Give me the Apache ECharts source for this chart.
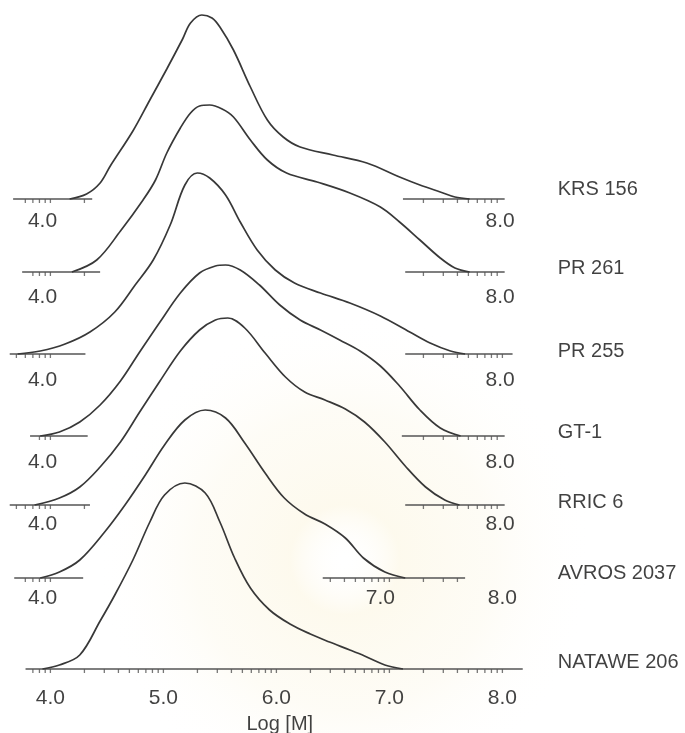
<!DOCTYPE html>
<html><head><meta charset="utf-8">
<script src="https://cdn.jsdelivr.net/npm/echarts@6/dist/echarts.min.js"></script>
<style>html,body{margin:0;padding:0;background:#fff}#c{width:685px;height:733px}</style>
</head><body><div id="c"></div>
<script>
// ---- data ----
const names = ['KRS 156','PR 261','PR 255','GT-1','RRIC 6','AVROS 2037','NATAWE 206'];
const baselines = [534, 461, 379, 297, 228, 155, 64];   // vertical stacking offsets
// [log M, relative intensity]
const krs156 = [[4.17,0],[4.32,5],[4.44,16],[4.53,33],[4.73,68],[4.88,99],[5.03,130],[5.17,160],[5.24,176],[5.34,184],[5.43,181],[5.50,172],[5.62,149],[5.77,112],[5.92,79],[6.06,62],[6.21,52],[6.50,44],[6.80,36],[7.09,22],[7.27,14],[7.45,7],[7.58,2],[7.71,0]];
const pr261 = [[4.19,0],[4.41,12],[4.62,41],[4.82,72],[4.93,92],[5.03,119],[5.15,144],[5.24,159],[5.32,166],[5.41,167],[5.52,163],[5.62,155],[5.77,132],[5.92,112],[6.09,99],[6.36,90],[6.65,79],[6.92,65],[7.09,50],[7.27,32],[7.45,14],[7.58,4],[7.71,0]];
const pr255 = [[3.71,0],[3.91,3],[4.13,10],[4.35,22],[4.57,42],[4.75,69],[4.91,94],[5.06,129],[5.19,169],[5.30,181],[5.41,176],[5.55,159],[5.68,132],[5.83,104],[5.99,84],[6.16,71],[6.39,61],[6.65,51],[6.92,38],[7.18,22],[7.36,11],[7.54,3],[7.67,0]];
const gt1 = [[3.91,0],[4.08,4],[4.26,14],[4.44,31],[4.62,55],[4.79,84],[4.97,114],[5.15,143],[5.32,163],[5.46,170],[5.55,171],[5.68,166],[5.85,151],[6.03,131],[6.21,116],[6.39,106],[6.56,96],[6.74,85],[6.92,70],[7.09,50],[7.27,26],[7.45,8],[7.63,0]];
const rric6 = [[3.86,0],[4.08,7],[4.26,18],[4.44,38],[4.62,63],[4.79,93],[4.97,124],[5.15,154],[5.32,175],[5.46,185],[5.57,187],[5.72,177],[5.90,152],[6.08,128],[6.25,113],[6.43,105],[6.61,96],[6.78,83],[6.96,63],[7.14,39],[7.32,18],[7.49,5],[7.62,0]];
const avros2037 = [[3.91,0],[4.08,6],[4.26,18],[4.48,46],[4.66,73],[4.84,103],[5.01,133],[5.19,158],[5.37,168],[5.55,160],[5.72,135],[5.90,105],[6.07,80],[6.25,64],[6.43,54],[6.61,40],[6.77,20],[6.96,6],[7.14,0]];
const natawe206 = [[3.93,0],[4.08,4],[4.26,14],[4.44,48],[4.57,74],[4.73,109],[4.88,147],[5.01,174],[5.19,186],[5.37,176],[5.50,147],[5.63,111],[5.77,81],[5.94,59],[6.12,45],[6.30,35],[6.47,27],[6.65,19],[6.78,13],[6.96,4],[7.12,0]];
const curves = [krs156, pr261, pr255, gt1, rric6, avros2037, natawe206];
// axis line pieces (log M extent) under each curve
const leftSegments  = [[3.67,4.37],[3.75,4.44],[3.64,4.31],[3.82,4.33],[3.64,4.35],[3.68,4.29],[3.78,8.18]];
const rightSegments = [[7.12,8.02],[7.14,8.02],[7.14,8.09],[7.11,8.02],[7.14,8.02],[6.41,7.67],null];
// tick label texts and their log M positions
const tickText = [['4.0','8.0'],['4.0','8.0'],['4.0','8.0'],['4.0','8.0'],['4.0','8.0'],['4.0','7.0','8.0'],['4.0','5.0','6.0','7.0','8.0']];
const tickPos  = [[3.93,7.98],[3.93,7.98],[3.93,7.98],[3.93,7.98],[3.93,7.98],[3.93,6.92,8.0],[4.0,5.0,6.0,7.0,8.0]];
const minorTicks = [0,0.301,0.477,0.602,0.699,0.778,0.845,0.903,0.954];
const axisName = 'Log [M]';

// ---- layout (pixels) ----
const tickLabelDrop = [22, 25, 26, 26, 19, 20, 29];
const nameRise = [10, 4, 3, 4, 3, 5, 7];
const nameX = 8.49;
const axisNamePos = [6.03, 9];

const chart = echarts.init(document.getElementById('c'));
const FONT = 'Liberation Sans, Arial, sans-serif';
const FS = 21;
const series = [];
curves.forEach((c, i) => {
  series.push({type:'line', smooth:0.35, symbol:'none', silent:true, z:3,
    lineStyle:{color:'#383838', width:1.7},
    data:c.map(p => [p[0], baselines[i] + p[1]])});
  [leftSegments[i], rightSegments[i]].forEach(seg => {
    if (!seg) return;
    series.push({type:'line', symbol:'none', silent:true, z:2,
      lineStyle:{color:'#555', width:1.5},
      data:[[seg[0], baselines[i]], [seg[1], baselines[i]]]});
    const t = [];
    for (let d = Math.floor(seg[0]); d <= Math.floor(seg[1]); d++) {
      minorTicks.forEach(m => { const p = d + m; if (p > seg[0] + 0.03 && p < seg[1] - 0.03) t.push([p, baselines[i]]); });
    }
    series.push({type:'scatter', symbol:'rect', symbolSize:[1.3,4], symbolOffset:[0,2], silent:true,
      itemStyle:{color:'#555'}, data:t, z:2});
  });
  series.push({type:'scatter', symbolSize:0, silent:true, z:5,
    label:{show:true, position:'inside', formatter:'{b}', color:'#111', fontSize:FS, fontFamily:FONT},
    data:tickText[i].map((s, k) => ({name:s, value:[tickPos[i][k], baselines[i] - tickLabelDrop[i]]}))});
  series.push({type:'scatter', symbolSize:0, silent:true, z:5,
    label:{show:true, position:'right', distance:0, formatter:'{b}', color:'#111', fontSize:FS - 1, fontFamily:FONT},
    data:[{name:names[i], value:[nameX, baselines[i] + nameRise[i]]}]});
});
series.push({type:'scatter', symbolSize:0, silent:true, z:5,
  label:{show:true, position:'inside', formatter:'{b}', color:'#111', fontSize:FS - 1, fontFamily:FONT},
  data:[{name:axisName, value:axisNamePos}]});

chart.setOption({
  animation:false,
  backgroundColor:'#ffffff',
  graphic:[{type:'circle', shape:{cx:345, cy:560, r:250}, silent:true, z:-10,
    style:{fill:{type:'radial', x:0.5, y:0.5, r:0.5, colorStops:[
      {offset:0, color:'rgba(255,255,255,0)'},{offset:0.22, color:'rgba(250,240,205,0.35)'},
      {offset:0.6, color:'rgba(250,243,218,0.25)'},{offset:1, color:'rgba(255,255,255,0)'}]}}}],
  grid:{left:5.2, right:24.4, top:0, bottom:0},
  xAxis:{type:'value', min:3.6, max:9.4, show:false},
  yAxis:{type:'value', min:0, max:733, show:false},
  series
});
</script></body></html>
